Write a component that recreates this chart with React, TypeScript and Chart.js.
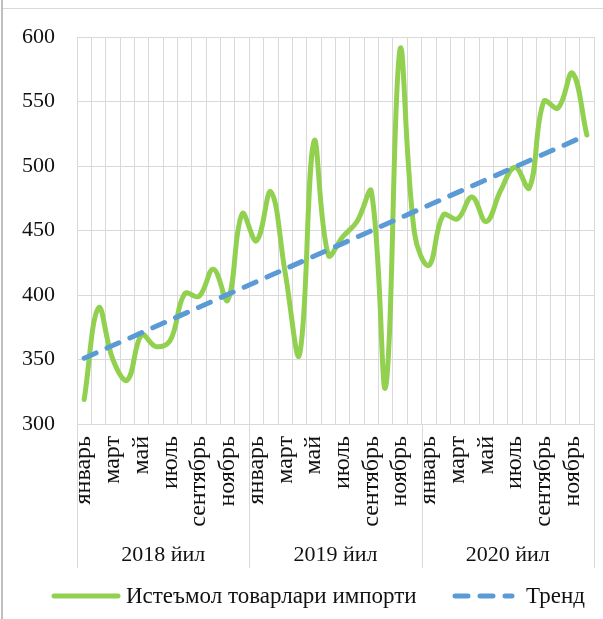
import React, { useEffect, useRef } from 'react';
import { Chart, registerables } from 'chart.js';

Chart.register(...registerables);

const years = ['2018 йил', '2019 йил', '2020 йил'];
const months = ['январь', 'февраль', 'март', 'апрель', 'май', 'июнь', 'июль', 'август', 'сентябрь', 'октябрь', 'ноябрь', 'декабрь'];
const imports2018 = [319, 390, 350, 334, 369, 360, 365, 401, 399, 420, 396, 463];
const imports2019 = [442, 480, 417, 354, 519, 431, 445, 457, 480, 329, 591, 448];
const imports2020 = [423, 462, 459, 476, 457, 481, 499, 483, 550, 545, 572, 524];
const trendStart = 351;
const trendEnd = 524;
const yMin = 300;
const yMax = 600;
const yStep = 50;
const seriesName = 'Истеъмол товарлари импорти';
const trendName = 'Тренд';

const FONT = "'Liberation Serif', 'Times New Roman', serif";
const GREEN = '#92D050';
const BLUE = '#5B9BD5';
const GRID = '#d9d9d9';
const TEXT = '#111111';

const labels: string[] = [];
years.forEach(() => months.forEach((m) => labels.push(m)));
const values = [...imports2018, ...imports2019, ...imports2020];
const trend: (number | null)[] = values.map((_, i) =>
  i === 0 ? trendStart : i === values.length - 1 ? trendEnd : null
);

const extrasPlugin = {
  id: 'extras',
  afterDraw(chart: any) {
    const { ctx, chartArea, scales } = chart;
    const xs = scales.x;
    const per = months.length;
    ctx.save();
    // group separators
    ctx.strokeStyle = GRID;
    ctx.lineWidth = 1;
    for (let g = 0; g <= years.length; g++) {
      const xx = Math.round(xs.getPixelForValue(g * per - 0.5)) + 0.5;
      ctx.beginPath();
      ctx.moveTo(xx, chartArea.bottom);
      ctx.lineTo(xx, 568);
      ctx.stroke();
    }
    // group labels
    ctx.fillStyle = TEXT;
    ctx.font = `22px ${FONT}`;
    ctx.textAlign = 'center';
    ctx.textBaseline = 'middle';
    years.forEach((y, g) => {
      const a = xs.getPixelForValue(g * per - 0.5);
      const b = xs.getPixelForValue((g + 1) * per - 0.5);
      ctx.fillText(y, (a + b) / 2, 555);
    });
    // legend
    const ly = 596;
    ctx.font = `23px ${FONT}`;
    ctx.lineCap = 'round';
    ctx.lineWidth = 5;
    ctx.strokeStyle = GREEN;
    ctx.setLineDash([]);
    ctx.beginPath();
    ctx.moveTo(54, ly);
    ctx.lineTo(118, ly);
    ctx.stroke();
    ctx.textAlign = 'left';
    ctx.fillText(seriesName, 126, ly + 1);
    ctx.strokeStyle = BLUE;
    ctx.setLineDash([13, 12]);
    ctx.beginPath();
    ctx.moveTo(455, ly);
    ctx.lineTo(512, ly);
    ctx.stroke();
    ctx.setLineDash([]);
    ctx.fillText(trendName, 526, ly + 1);
    // outer frame
    ctx.lineCap = 'butt';
    ctx.strokeStyle = '#bfbfbf';
    ctx.lineWidth = 2;
    ctx.beginPath();
    ctx.moveTo(2, 0);
    ctx.lineTo(2, 619);
    ctx.stroke();
    ctx.strokeStyle = GRID;
    ctx.lineWidth = 1;
    ctx.beginPath();
    ctx.moveTo(3, 8.5);
    ctx.lineTo(603, 8.5);
    ctx.stroke();
    ctx.restore();
  },
};

export default function App() {
  const ref = useRef<HTMLCanvasElement>(null);
  useEffect(() => {
    if (!ref.current) return;
    const chart = new Chart(ref.current, {
      type: 'line',
      data: {
        labels,
        datasets: [
          {
            label: trendName,
            data: trend,
            borderColor: BLUE,
            borderWidth: 5,
            borderDash: [13, 12],
            borderCapStyle: 'round',
            pointRadius: 0,
            spanGaps: true,
            tension: 0,
            order: 0,
          },
          {
            label: seriesName,
            data: values,
            borderColor: GREEN,
            borderWidth: 5,
            borderCapStyle: 'round',
            borderJoinStyle: 'round',
            pointRadius: 0,
            tension: 0.4,
            order: 1,
          },
        ],
      },
      options: {
        responsive: false,
        animation: false,
        layout: { padding: { top: 37, right: 9, left: 0, bottom: 0 } },
        plugins: { legend: { display: false }, tooltip: { enabled: false } },
        scales: {
          x: {
            offset: true,
            grid: { offset: true, color: GRID, lineWidth: 1, drawTicks: false },
            border: { color: GRID },
            ticks: {
              autoSkip: false,
              maxRotation: 90,
              minRotation: 90,
              padding: 12,
              color: TEXT,
              font: { family: FONT, size: 24 },
              callback: (_v: any, i: number) => (i % 2 === 0 ? labels[i] : ''),
            },
            afterFit: (s: any) => {
              s.height = 195;
              s.paddingLeft = 0;
              s.paddingRight = 0;
            },
          },
          y: {
            min: yMin,
            max: yMax,
            grid: { color: GRID, lineWidth: 1, drawTicks: false },
            border: { color: GRID },
            ticks: {
              stepSize: yStep,
              padding: 22,
              color: TEXT,
              font: { family: FONT, size: 22 },
            },
            afterFit: (s: any) => {
              s.width = 77;
              s.paddingTop = 0;
              s.paddingBottom = 0;
            },
          },
        },
      },
      plugins: [extrasPlugin],
    });
    return () => chart.destroy();
  }, []);
  return (
    <div style={{ position: 'fixed', left: 0, top: 0, width: 603, height: 619, background: '#fff' }}>
      <canvas ref={ref} width={603} height={619} style={{ width: 603, height: 619 }} />
    </div>
  );
}
